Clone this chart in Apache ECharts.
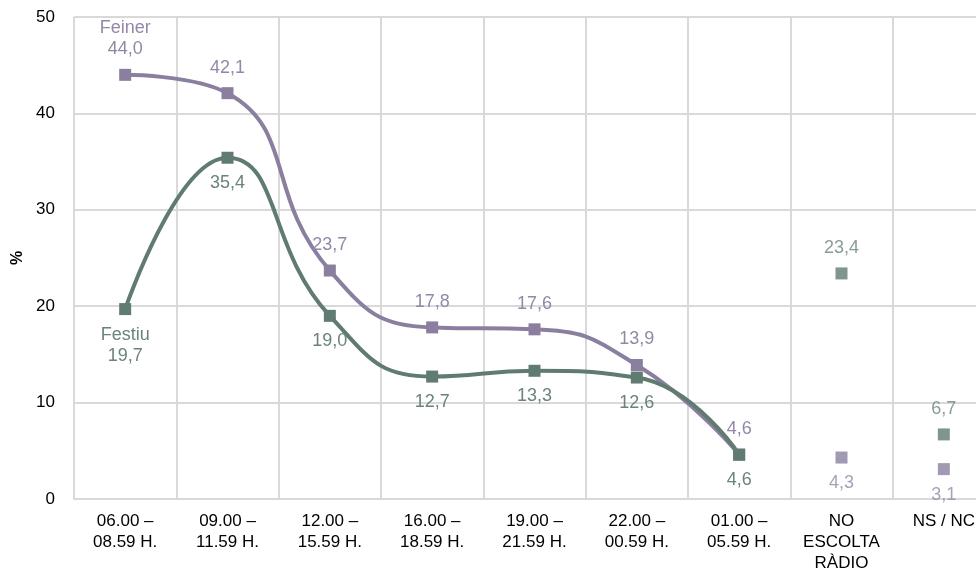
<!DOCTYPE html>
<html><head><meta charset="utf-8">
<script src="https://cdn.jsdelivr.net/npm/echarts@6/dist/echarts.min.js"></script>
<style>html,body{margin:0;padding:0;background:#fff;overflow:hidden;width:976px;height:574px}#c{width:995px;height:574px}</style>
</head><body><div id="c"></div>
<script>
const categories = ['06.00 –\n08.59 H.', '09.00 –\n11.59 H.', '12.00 –\n15.59 H.', '16.00 –\n18.59 H.', '19.00 –\n21.59 H.', '22.00 –\n00.59 H.', '01.00 –\n05.59 H.', 'NO\nESCOLTA\nRÀDIO', 'NS / NC'];
const feiner = [44.0, 42.1, 23.7, 17.8, 17.6, 13.9, 4.6, 4.3, 3.1];
const festiu = [19.7, 35.4, 19.0, 12.7, 13.3, 12.6, 4.6, 23.4, 6.7];
const lineCount = 7;
const yTicks = [0, 10, 20, 30, 40, 50];

const cFeiner = '#8b7fa0';
const cFestiu = '#607b70';
const lFeiner = '#9488a8';
const lFestiu = '#6a8479';
const FONT = 'Liberation Sans, Arial, sans-serif';
const fmt = v => v.toFixed(1).replace('.', ',');

function lineData(arr) { return arr.map((v, i) => i < lineCount ? v : '-'); }
function dotData(arr) { return arr.map((v, i) => i >= lineCount ? v : '-'); }

const chart = echarts.init(document.getElementById('c'));
const lbl = (color, pos, first, name) => ({
  show: true, position: pos, distance: 9, color: color,
  fontFamily: FONT, fontSize: 18, lineHeight: 21,
  formatter: p => (first && p.dataIndex === 0 ? name + '\n' : '') + fmt(p.value)
});
chart.setOption({
  animation: false,
  grid: { left: 74, right: 0, top: 17, bottom: 68, containLabel: false },
  xAxis: {
    type: 'category', data: categories, boundaryGap: true,
    axisLine: { show: true, lineStyle: { color: '#d9d9d9', width: 2 } },
    axisTick: { show: false },
    splitLine: { show: true, interval: 0, lineStyle: { color: '#d9d9d9', width: 2 } },
    axisLabel: { interval: 0, color: '#000', fontFamily: FONT, fontSize: 17, lineHeight: 21, margin: 12 }
  },
  yAxis: {
    type: 'value', min: yTicks[0], max: yTicks[yTicks.length - 1], interval: 10,
    name: '%', nameLocation: 'middle', nameGap: 46, nameRotate: 90,
    nameTextStyle: { color: '#000', fontWeight: 'bold', fontSize: 16, fontFamily: FONT },
    axisLine: { show: false }, axisTick: { show: false },
    splitLine: { lineStyle: { color: '#d9d9d9', width: 2 } },
    axisLabel: { color: '#000', fontFamily: FONT, fontSize: 17, margin: 19 }
  },
  series: [
    { name: 'Feiner', type: 'line', data: lineData(feiner), smooth: 0.5, symbol: 'rect', symbolSize: 12,
      lineStyle: { color: cFeiner, width: 4 }, itemStyle: { color: cFeiner },
      label: lbl(lFeiner, 'top', true, 'Feiner') },
    { name: 'Feiner dots', type: 'scatter', data: dotData(feiner), symbol: 'rect', symbolSize: 12,
      itemStyle: { color: cFeiner }, label: lbl(lFeiner, 'bottom', false) },
    { name: 'Festiu', type: 'line', data: lineData(festiu), smooth: 0.5, symbol: 'rect', symbolSize: 12,
      lineStyle: { color: cFestiu, width: 4 }, itemStyle: { color: cFestiu },
      label: lbl(lFestiu, 'bottom', true, 'Festiu') },
    { name: 'Festiu dots', type: 'scatter', data: dotData(festiu), symbol: 'rect', symbolSize: 12,
      itemStyle: { color: cFestiu }, label: lbl(lFestiu, 'top', false) }
  ]
});
</script></body></html>
